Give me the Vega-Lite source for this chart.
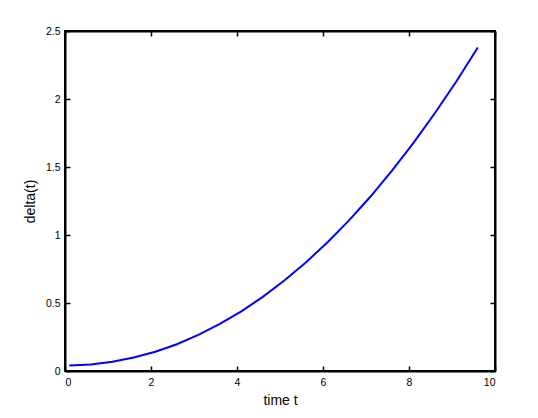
{
  "$schema": "https://vega.github.io/schema/vega-lite/v6.json",
  "width": 430,
  "height": 340,
  "autosize": {"type": "none"},
  "padding": {"left": 65, "top": 31, "right": 43, "bottom": 47},
  "background": "white",
  "config": {
    "view": {"stroke": "black", "strokeWidth": 2},
    "axis": {
      "domainColor": "black", "domainWidth": 2, "tickColor": "black", "tickWidth": 1.5,
      "tickSize": -5, "grid": false, "labelFont": "Liberation Sans", "labelFontSize": 10.5,
      "labelColor": "black", "titleFont": "Liberation Sans", "titleFontSize": 14,
      "titleFontWeight": "normal", "titleColor": "black", "labelPadding": 10, "format": "~f"
    }
  },
  "data": {"values": [
    {"t": 0.1, "d": 0.040}, {"t": 0.6, "d": 0.048}, {"t": 1.1, "d": 0.068}, {"t": 1.6, "d": 0.099},
    {"t": 2.1, "d": 0.142}, {"t": 2.6, "d": 0.197}, {"t": 3.1, "d": 0.265}, {"t": 3.6, "d": 0.346},
    {"t": 4.1, "d": 0.439}, {"t": 4.6, "d": 0.545}, {"t": 5.1, "d": 0.665}, {"t": 5.6, "d": 0.798},
    {"t": 6.1, "d": 0.945}, {"t": 6.6, "d": 1.106}, {"t": 7.1, "d": 1.281}, {"t": 7.6, "d": 1.471},
    {"t": 8.1, "d": 1.676}, {"t": 8.6, "d": 1.895}, {"t": 9.1, "d": 2.129}, {"t": 9.6, "d": 2.379}
  ]},
  "layer": [
    {
      "mark": {"type": "line", "color": "#0000ff", "strokeWidth": 2},
      "encoding": {
        "x": {"field": "t", "type": "quantitative", "scale": {"domain": [0, 10], "nice": false},
              "axis": {"title": "time t", "values": [0, 2, 4, 6, 8, 10], "labelPadding": 11, "titlePadding": 6}},
        "y": {"field": "d", "type": "quantitative", "scale": {"domain": [0, 2.5], "nice": false},
              "axis": {"title": "delta(t)", "values": [0, 0.5, 1, 1.5, 2, 2.5], "labelPadding": 10, "titlePadding": 8}}
      }
    },
    {
      "mark": {"type": "line", "opacity": 0},
      "encoding": {
        "x": {"field": "t", "type": "quantitative", "scale": {"domain": [0, 10], "nice": false},
              "axis": {"orient": "top", "title": null, "labels": false, "values": [0, 2, 4, 6, 8, 10]}},
        "y": {"field": "d", "type": "quantitative", "scale": {"domain": [0, 2.5], "nice": false},
              "axis": {"orient": "right", "title": null, "labels": false, "values": [0, 0.5, 1, 1.5, 2, 2.5]}}
      }
    }
  ],
  "resolve": {"scale": {"x": "independent", "y": "independent"}}
}
